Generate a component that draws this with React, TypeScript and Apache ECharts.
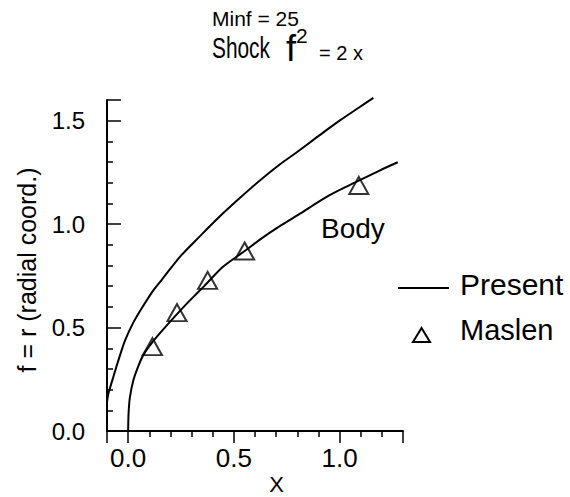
import React, { useEffect, useRef } from "react";
import * as echarts from "echarts";

// Shock curve (upper line)
const shockX = [-0.1, -0.093, -0.069, -0.045, -0.014, 0.025, 0.072, 0.119, 0.159, 0.245, 0.34, 0.434, 0.528, 0.623, 0.717, 0.804, 0.906, 1.0, 1.094, 1.16];
const shockR = [0.14, 0.182, 0.265, 0.345, 0.439, 0.525, 0.606, 0.68, 0.731, 0.842, 0.942, 1.038, 1.126, 1.211, 1.288, 1.352, 1.43, 1.5, 1.565, 1.61];

// Body curve (lower line)
const bodyX = [0, 0.002, 0.008, 0.025, 0.05, 0.072, 0.115, 0.165, 0.231, 0.283, 0.34, 0.376, 0.45, 0.551, 0.623, 0.717, 0.804, 0.953, 1.091, 1.189, 1.275];
const bodyR = [0, 0.085, 0.16, 0.246, 0.318, 0.368, 0.43, 0.49, 0.565, 0.622, 0.68, 0.718, 0.795, 0.87, 0.925, 0.99, 1.045, 1.14, 1.21, 1.259, 1.299];

// Maslen data (triangles)
const maslenX = [0.115, 0.231, 0.376, 0.551, 1.091];
const maslenR = [0.408, 0.572, 0.728, 0.87, 1.187];

// Major ticks / tick labels
const xTicks = [0, 0.5, 1.0];
const yTicks = [0, 0.5, 1.0, 1.5];

const FONT = "'Liberation Sans', Arial, Helvetica, sans-serif";
const isMajor = (v: number, list: number[]) => list.some((t) => Math.abs(t - v) < 1e-6);

function txt(text: string, x: number, y: number, fontSize: number, extra: any = {}) {
  const { align = "left", ...rest } = extra;
  return {
    type: "text", x, y, ...rest,
    style: { text, fill: "#000", fontSize, fontFamily: FONT, align, textAlign: align, verticalAlign: "middle", textVerticalAlign: "middle" },
  };
}

export default function App() {
  const ref = useRef<HTMLDivElement>(null);
  useEffect(() => {
    if (!ref.current) return;
    const chart = echarts.init(ref.current, null, { renderer: "svg" });
    const axisColor = "#000";
    const option: any = {
      animation: false,
      backgroundColor: "#fff",
      grid: { left: 107, right: 167, top: 100, bottom: 66, containLabel: false },
      xAxis: {
        type: "value", min: -0.1, max: 1.3, minInterval: 0.5, maxInterval: 0.5,
        axisLine: { show: true, onZero: false, lineStyle: { color: axisColor, width: 2 } },
        axisTick: { show: true, inside: false, length: 12, lineStyle: { color: axisColor, width: 1.5 } },
        minorTick: { show: true, splitNumber: 5, length: 6, lineStyle: { color: axisColor, width: 1.5 } },
        axisLabel: {
          showMinLabel: false, showMaxLabel: false,
          formatter: (v: number) => (isMajor(v, xTicks) ? v.toFixed(1) : ""),
          color: "#000", fontSize: 26, fontFamily: FONT, margin: 14,
        },
        splitLine: { show: false },
      },
      yAxis: {
        type: "value", min: 0, max: 1.6, minInterval: 0.5, maxInterval: 0.5,
        axisLine: { show: true, onZero: false, lineStyle: { color: axisColor, width: 2 } },
        axisTick: { show: true, inside: true, length: 14, lineStyle: { color: axisColor, width: 1.5 } },
        minorTick: { show: true, splitNumber: 5, length: 6, lineStyle: { color: axisColor, width: 1.5 } },
        axisLabel: {
          showMaxLabel: false,
          formatter: (v: number) => (isMajor(v, yTicks) ? v.toFixed(1) : ""),
          color: "#000", fontSize: 24, fontFamily: FONT, margin: 22,
        },
        splitLine: { show: false },
      },
      series: [
        { name: "Present", type: "line", data: shockX.map((x, i) => [x, shockR[i]]), symbol: "none", smooth: 0.3, clip: false, lineStyle: { color: "#000", width: 2 } },
        { name: "Present", type: "line", data: bodyX.map((x, i) => [x, bodyR[i]]), symbol: "none", smooth: 0.3, clip: false, lineStyle: { color: "#000", width: 2 } },
        { name: "Maslen", type: "scatter", data: maslenX.map((x, i) => [x, maslenR[i]]), symbol: "triangle", symbolSize: [19, 17], itemStyle: { color: "rgba(0,0,0,0)", borderColor: "#000", borderWidth: 2 }, z: 5 },
      ],
      graphic: [
        txt("Minf = 25", 212, 18.5, 21),
        txt("Shock", 212, 48, 29, { scaleX: 0.72 }),
        txt("f", 286, 48.5, 36),
        txt("2", 296, 35.5, 21),
        txt("= 2 x", 319, 53, 20),
        txt("Body", 321, 228, 28),
        { type: "line", shape: { x1: 398, y1: 288, x2: 449, y2: 288 }, style: { stroke: "#000", lineWidth: 2 } },
        txt("Present", 460, 284, 30),
        { type: "polygon", shape: { points: [[421.5, 328], [413, 342], [430, 342]] }, style: { fill: "none", stroke: "#000", lineWidth: 2 } },
        txt("Maslen", 460, 329.5, 29),
        txt("X", 276.5, 484.5, 22, { align: "center" }),
        txt("f = r (radial coord.)", 27, 270, 25, { align: "center", rotation: Math.PI / 2 }),
      ],
    };
    chart.setOption(option);
    return () => chart.dispose();
  }, []);
  return <div ref={ref} style={{ position: "fixed", left: 0, top: 0, width: 570, height: 497, background: "#fff" }} />;
}
